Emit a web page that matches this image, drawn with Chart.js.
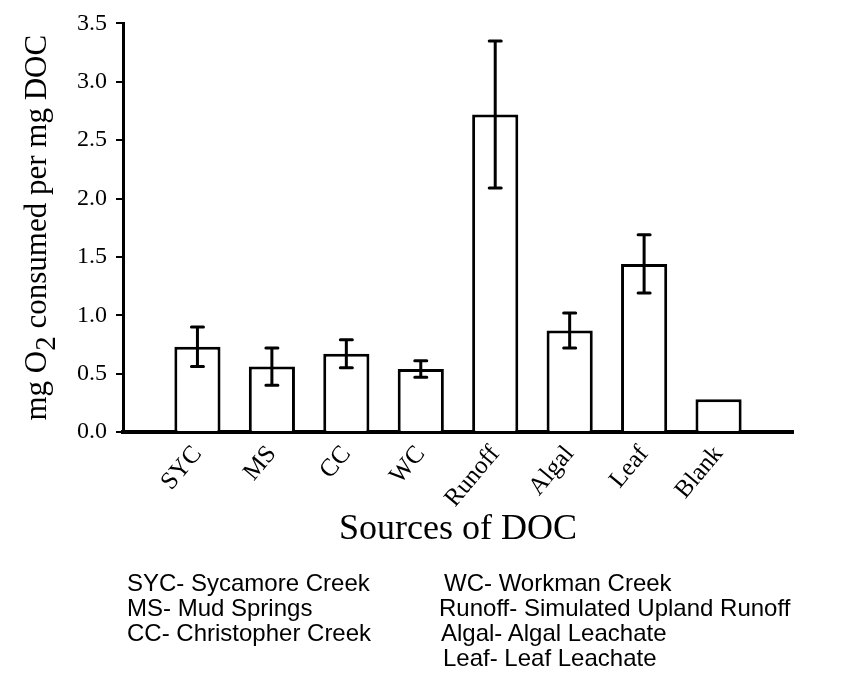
<!DOCTYPE html>
<html>
<head>
<meta charset="utf-8">
<script src="https://cdn.jsdelivr.net/npm/chart.js@4/dist/chart.umd.min.js"></script>
<style>
  html, body { margin: 0; padding: 0; background: #fff; }
  #wrap { position: relative; width: 849px; height: 693px; }
  #chart { position: absolute; left: 0; top: 0; }
  .key {
    position: absolute;
    font-family: Arial, 'Liberation Sans', sans-serif;
    font-size: 24px;
    line-height: 25px;
    color: #000;
    white-space: nowrap;
  }
</style>
</head>
<body>
<div id="wrap">
  <canvas id="chart" width="849" height="693"></canvas>
  <div class="key" style="left:127px; top:570px">SYC- Sycamore Creek</div>
  <div class="key" style="left:127px; top:595px">MS- Mud Springs</div>
  <div class="key" style="left:127px; top:620px">CC- Christopher Creek</div>
  <div class="key" style="left:444px; top:570px">WC- Workman Creek</div>
  <div class="key" style="left:439px; top:595px">Runoff- Simulated Upland Runoff</div>
  <div class="key" style="left:441px; top:620px">Algal- Algal Leachate</div>
  <div class="key" style="left:443px; top:645px">Leaf- Leaf Leachate</div>
</div>
<script>
// O2 demand per unit DOC, mean and error per source
const categories = ['SYC', 'MS', 'CC', 'WC', 'Runoff', 'Algal', 'Leaf', 'Blank'];
const means = [0.73, 0.56, 0.67, 0.54, 2.72, 0.87, 1.44, 0.28];
const errors = [0.17, 0.16, 0.12, 0.07, 0.63, 0.15, 0.25, 0];
const yTicks = [0, 0.5, 1.0, 1.5, 2.0, 2.5, 3.0, 3.5];

const SERIF = "'Times New Roman', 'Liberation Serif', serif";

// blank slot at each end so the axis runs half a bar-gap past the outer bars
const axisLabels = [''].concat(categories, ['']);
const barValues = [null].concat(means, [null]);
const barErrors = [0].concat(errors, [0]);

const errorBars = {
  id: 'errorBars',
  afterDatasetsDraw(chart) {
    const { ctx } = chart;
    const y = chart.scales.y;
    const meta = chart.getDatasetMeta(0);
    ctx.save();
    ctx.strokeStyle = '#000';
    ctx.lineWidth = 3;
    ctx.lineCap = 'round';
    meta.data.forEach((bar, i) => {
      const v = barValues[i];
      const e = barErrors[i];
      if (v === null || !e) return;
      const top = y.getPixelForValue(v + e);
      const bot = y.getPixelForValue(v - e);
      ctx.beginPath();
      ctx.moveTo(bar.x, top); ctx.lineTo(bar.x, bot);
      ctx.moveTo(bar.x - 6, top); ctx.lineTo(bar.x + 6, top);
      ctx.moveTo(bar.x - 6, bot); ctx.lineTo(bar.x + 6, bot);
      ctx.stroke();
    });
    ctx.restore();
  }
};

// rotated y title, drawn in pieces so the 2 sits as a subscript
const yTitle = {
  id: 'yTitle',
  afterDraw(chart) {
    const { ctx, chartArea } = chart;
    const parts = [['mg O', 31, 0], ['2', 29, 9], [' consumed per mg DOC', 31, 0]];
    ctx.save();
    ctx.translate(46, (chartArea.top + chartArea.bottom) / 2);
    ctx.rotate(-Math.PI / 2);
    ctx.fillStyle = '#000';
    ctx.textBaseline = 'alphabetic';
    let total = 0;
    parts.forEach(([t, s]) => { ctx.font = s + 'px ' + SERIF; total += ctx.measureText(t).width; });
    let x = -total / 2;
    parts.forEach(([t, s, dy]) => {
      ctx.font = s + 'px ' + SERIF;
      ctx.fillText(t, x, dy);
      x += ctx.measureText(t).width;
    });
    ctx.restore();
  }
};

new Chart(document.getElementById('chart'), {
  type: 'bar',
  data: {
    labels: axisLabels,
    datasets: [{
      data: barValues,
      backgroundColor: '#fff',
      borderColor: '#000',
      borderWidth: 3,
      barPercentage: 0.62,
      categoryPercentage: 1
    }]
  },
  options: {
    responsive: false,
    animation: false,
    layout: { padding: { top: 23, right: 56, bottom: 142, left: 0 } },
    plugins: { legend: { display: false }, tooltip: { enabled: false } },
    scales: {
      x: {
        offset: false,
        grid: { display: false, drawTicks: false },
        border: { display: true, color: '#000', width: 4 },
        ticks: {
          color: '#000',
          font: { family: SERIF, size: 25 },
          minRotation: 50,
          maxRotation: 50,
          padding: 8,
          autoSkip: false
        },
        title: {
          display: true,
          text: 'Sources of DOC',
          color: '#000',
          font: { family: SERIF, size: 36 },
          padding: { top: 0, bottom: 0 }
        },
        afterFit(scale) { scale.height = 119; }
      },
      y: {
        min: 0,
        max: 3.5,
        afterBuildTicks(scale) { scale.ticks = yTicks.map((v) => ({ value: v })); },
        grid: { drawOnChartArea: false, drawTicks: true, tickLength: 7, color: '#000', lineWidth: 2 },
        border: { display: true, color: '#000', width: 3 },
        ticks: {
          color: '#000',
          font: { family: SERIF, size: 24 },
          padding: 9,
          callback: (v) => Number(v).toFixed(1)
        },
        afterFit(scale) { scale.width = 123; }
      }
    }
  },
  plugins: [errorBars, yTitle]
});
</script>
</body>
</html>
